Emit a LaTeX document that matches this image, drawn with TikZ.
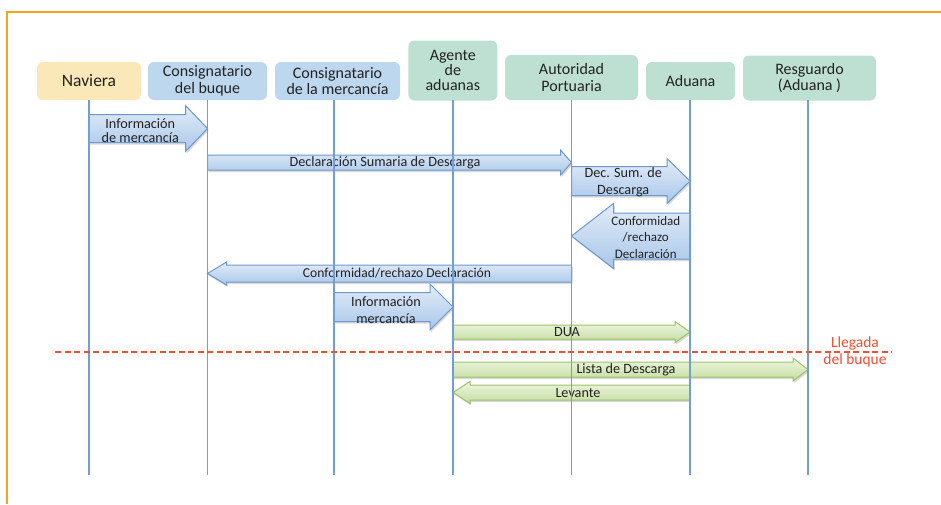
\documentclass[tikz,border=0pt]{standalone}
\usepackage{fontspec}
\setmainfont{Carlito}
\usetikzlibrary{calc,shadows}

\definecolor{frameorange}{HTML}{F5A21E}
\definecolor{lifeblue}{HTML}{6F9ED9}
\definecolor{navfill}{HTML}{FBE8B8}
\definecolor{consfill}{HTML}{BDD8EE}
\definecolor{authfill}{HTML}{BEE0D2}
\definecolor{arrowblueline}{HTML}{6C98CC}
\definecolor{arrowbluetop}{HTML}{E2ECF8}
\definecolor{arrowbluebot}{HTML}{A9C7E9}
\definecolor{arrowgreenline}{HTML}{9CC26A}
\definecolor{arrowgreentop}{HTML}{EFF6E2}
\definecolor{arrowgreenbot}{HTML}{C3DD9E}
\definecolor{arrivalred}{HTML}{F24E34}
\definecolor{inktext}{HTML}{222222}

% Block arrow between two lifelines:
% #1 style, #2 tail, #3 tip, #4 depth of the axis, #5 half body height,
% #6 half head height, #7 head length, #8 label options, #9 label
\newcommand\blockarrow[9]{%
  \coordinate (ba-t) at (#2 |- 0,-#4);
  \coordinate (ba-e) at (#3 |- 0,-#4);
  \coordinate (ba-b) at ($(ba-e)!#7pt!(ba-t)$);
  \draw[#1] ($(ba-t)+(0,#5)$) -- ($(ba-b)+(0,#5)$) -- ($(ba-b)+(0,#6)$)
    -- (ba-e) -- ($(ba-b)+(0,-#6)$) -- ($(ba-b)+(0,-#5)$)
    -- ($(ba-t)+(0,-#5)$) -- cycle;
  \node[arrowlabel,#8] at ($(ba-t)!0.5!(ba-b)$) {#9};
}

\tikzset{
  header/.style={rectangle, rounded corners=6pt, align=center, inner sep=0pt,
    text=inktext, font=\fontsize{16}{16.8}\selectfont},
  lifeline/.style={draw=lifeblue, line width=1.5pt},
  softshadow/.style={drop shadow={shadow xshift=1.2pt, shadow yshift=-2pt,
    fill=black, opacity=0.15}},
  bluearrow/.style={draw=arrowblueline, line width=1pt, line join=miter,
    top color=arrowbluetop, bottom color=arrowbluebot, softshadow},
  greenarrow/.style={draw=arrowgreenline, line width=1pt, line join=miter,
    top color=arrowgreentop, bottom color=arrowgreenbot, softshadow},
  arrowlabel/.style={align=center, inner sep=0pt, text=inktext,
    font=\fontsize{14.2}{16.5}\selectfont},
}

\begin{document}
\begin{tikzpicture}[x=1pt,y=1pt]
\useasboundingbox (0,0) rectangle (941,-504);

% frame
\draw[frameorange, line width=2pt] (7,-504) -- (7,-12) -- (941,-12);

% participants
\node[header, fill=navfill, minimum width=104pt, minimum height=38pt,
  font=\fontsize{17.5}{18}\selectfont]
  (nav) at (89,-81) {Naviera};
\node[header, fill=consfill, minimum width=119pt, minimum height=38pt]
  (cbuq) at (207.5,-81) {Consignatario\\del buque};
\node[header, fill=consfill, minimum width=125pt, minimum height=38pt]
  (cmer) at (337.5,-81) {Consignatario\\de la mercancía};
\node[header, fill=authfill, minimum width=89pt, minimum height=60pt,
  font=\fontsize{16}{15}\selectfont]
  (agen) at (452.8,-70.5) {Agente\\de\\aduanas};
\node[header, fill=authfill, minimum width=133pt, minimum height=45pt]
  (autp) at (571.5,-77.5) {Autoridad\\Portuaria};
\node[header, fill=authfill, minimum width=89pt, minimum height=38pt]
  (adua) at (690.5,-81) {Aduana};
\node[header, fill=authfill, minimum width=133pt, minimum height=45pt]
  (resg) at (809.5,-78) {Resguardo\\(Aduana )};

% lifeline tops and common end
\coordinate (L1) at (89,-100);
\coordinate (L2) at (207.5,-100);
\coordinate (L3) at (334,-100);
\coordinate (L4) at (453,-100);
\coordinate (L5) at (571.5,-100);
\coordinate (L6) at (690,-100);
\coordinate (L7) at (808,-100);
\coordinate (lifeend) at (0,-475);

% messages
\blockarrow{bluearrow}{L1}{L2}{128.5}{14}{23}{22}
  {name=m1, xshift=3pt, yshift=-2pt, font=\fontsize{14.2}{14.5}\selectfont}
  {Información\\de mercancía}
\blockarrow{bluearrow}{L2}{L5}{162.5}{7.5}{12.5}{11}
  {name=m2, xshift=1pt, font=\fontsize{14.2}{15}\selectfont}
  {Declaración Sumaria de Descarga}
\blockarrow{bluearrow}{L5}{L6}{181}{14.5}{22.5}{23}
  {name=m3, xshift=4pt, yshift=-1.5pt}
  {Dec. Sum. de\\Descarga}
\blockarrow{bluearrow}{L6}{L5}{236}{23}{32.5}{42}
  {name=m4, xshift=-6pt, yshift=-1.5pt, font=\fontsize{13}{16.5}\selectfont}
  {Conformidad\\/rechazo\\Declaración}
\blockarrow{bluearrow}{L5}{L2}{273.5}{8.5}{11.5}{19}
  {name=m5, xshift=-2pt, font=\fontsize{13.6}{15}\selectfont}
  {Conformidad/rechazo Declaración}
\blockarrow{bluearrow}{L3}{L4}{307}{14.5}{23}{23}
  {name=m6, xshift=4pt, yshift=-3pt}
  {Información\\mercancía}
\blockarrow{greenarrow}{L4}{L6}{332}{7}{10.5}{15}
  {name=m7, xshift=3pt}
  {DUA}
\blockarrow{greenarrow}{L4}{L7}{369.5}{7.5}{11.5}{15}
  {name=m8, xshift=3pt}
  {Lista de Descarga}
\blockarrow{greenarrow}{L6}{L4}{392.5}{7.5}{11}{17}
  {name=m9, xshift=-2pt}
  {Levante}

% lifelines
\foreach \l in {L1,L2,L3,L4,L5,L6,L7}
  \draw[lifeline] (\l) -- (\l |- lifeend);

% ship arrival
\coordinate (arrL) at (55,-352);
\coordinate (arrR) at (892,-352);
\draw[arrivalred, line width=1.4pt, dash pattern=on 6pt off 3.5pt] (arrL) -- (arrR);
\node[align=center, inner sep=0pt, text=arrivalred,
  font=\fontsize{15.5}{17}\selectfont] (arrival) at (855,-351.5)
  {Llegada\\del buque};
\end{tikzpicture}
\end{document}
